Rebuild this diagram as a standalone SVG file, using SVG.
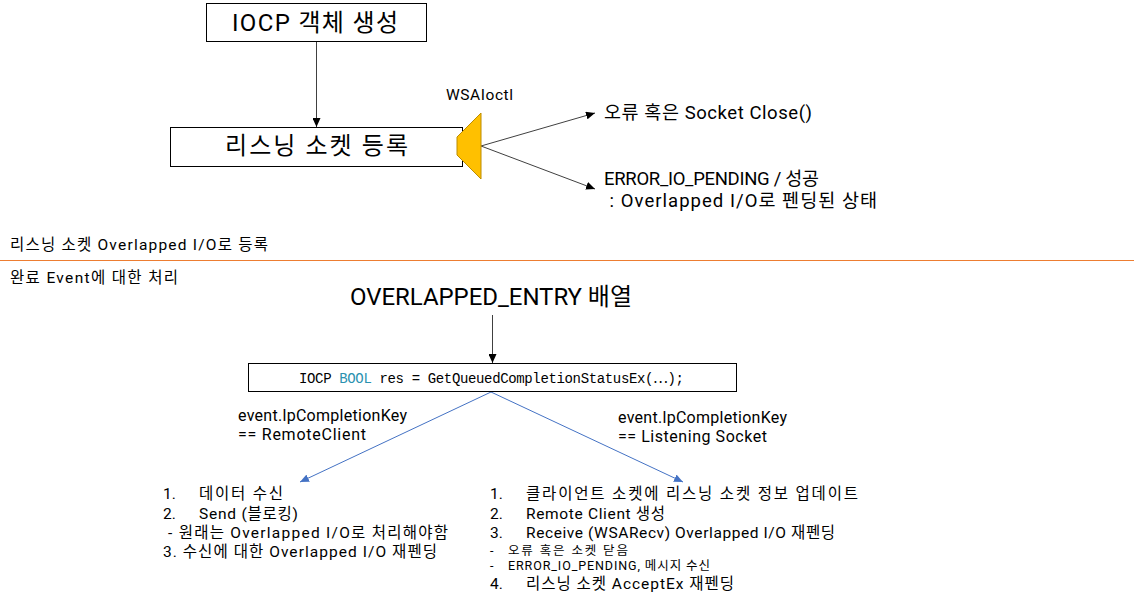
<svg xmlns="http://www.w3.org/2000/svg" width="1134" height="603" viewBox="0 0 1134 603">
<style>
text{font-family:Roboto,"Noto Sans CJK KR",sans-serif;fill:#000;white-space:pre}
.box{fill:#fff;stroke:#000;stroke-width:1}
.t15{font-size:15.500px}.t16{font-size:16px}.t18{font-size:18.500px}.t24{font-size:24px}
.t12{font-size:12.500px}
.mono{font-family:"Liberation Mono","Noto Sans CJK KR",monospace;font-size:14px}
.dark{stroke:#404040;stroke-width:1;fill:none}
.blue{stroke:#4472C4;stroke-width:1;fill:none}
</style>
<defs>
<marker id="ah" markerUnits="userSpaceOnUse" markerWidth="9" markerHeight="8" refX="9" refY="4" orient="auto"><path d="M0 0L9 4L0 8Z" fill="#000"/></marker>
<marker id="ab" markerUnits="userSpaceOnUse" markerWidth="9" markerHeight="8" refX="9" refY="4" orient="auto"><path d="M0 0L9 4L0 8Z" fill="#4472C4"/></marker>
</defs>
<g id="connectors">
<path class="dark" d="M316.500 41V127" marker-end="url(#ah)"/>
<path class="dark" d="M481 146L595 113" marker-end="url(#ah)"/>
<path class="dark" d="M481 146L595 189" marker-end="url(#ah)"/>
<path class="dark" d="M492.500 315V363" marker-end="url(#ah)"/>
<path class="blue" d="M491 392L300 482" marker-end="url(#ab)"/>
<path class="blue" d="M491 392L683 482" marker-end="url(#ab)"/>
</g>
<g id="node-iocp"><rect class="box" x="206.500" y="3.500" width="220" height="38"/><text class="t24" x="232" y="31" textLength="166">IOCP 객체 생성</text></g>
<g id="node-listen"><rect class="box" x="170.500" y="127.500" width="292" height="39"/><text class="t24" x="225" y="154" textLength="183">리스닝 소켓 등록</text></g>
<g id="node-horn"><path d="M457 137L481 113V179L457 155Z" fill="#FFC000" stroke="#BC8C00" stroke-width="1"/><text font-size="15.500" x="446" y="100" textLength="67">WSAIoctl</text></g>
<g id="node-result1"><text class="t18" x="604" y="119" textLength="208">오류 혹은 Socket Close()</text></g>
<g id="node-result2"><text class="t18" x="604" y="185" textLength="215">ERROR_IO_PENDING / 성공</text><text class="t18" x="604" y="207" textLength="273"> : Overlapped I/O로 펜딩된 상태</text></g>
<g id="section-labels">
<text class="t15" x="10" y="250" textLength="258">리스닝 소켓 Overlapped I/O로 등록</text>
<path d="M0 260.500H1134" stroke="#ED7D31" stroke-width="1" fill="none"/>
<text class="t15" x="10" y="283" textLength="168">완료 Event에 대한 처리</text>
</g>
<g id="node-entry"><text font-size="24" x="350" y="305" textLength="282">OVERLAPPED_ENTRY 배열</text></g>
<g id="node-iocp-call"><rect class="box" x="248.500" y="363.500" width="488" height="28"/><text class="mono" x="299" y="383" textLength="385">IOCP <tspan fill="#2B91AF">BOOL</tspan> res = GetQueuedCompletionStatusEx(⋯);</text></g>
<g id="label-left"><text class="t16" x="238" y="421" textLength="169">event.lpCompletionKey</text><text class="t16" x="238" y="440" textLength="128">== RemoteClient</text></g>
<g id="label-right"><text class="t16" x="618" y="423" textLength="169">event.lpCompletionKey</text><text class="t16" x="618" y="442" textLength="149">== Listening Socket</text></g>
<g id="list-left">
<text class="t15" x="163" y="499">1.</text><text class="t15" x="199" y="499" textLength="84">데이터 수신</text>
<text class="t15" x="163" y="519">2.</text><text class="t15" x="199" y="519" textLength="99">Send (블로킹)</text>
<text class="t15" x="168" y="538" textLength="280">- 원래는 Overlapped I/O로 처리해야함</text>
<text class="t15" x="163" y="557" textLength="274">3. 수신에 대한 Overlapped I/O 재펜딩</text>
</g>
<g id="list-right">
<text class="t15" x="490" y="499">1.</text><text class="t15" x="526" y="499" textLength="332">클라이언트 소켓에 리스닝 소켓 정보 업데이트</text>
<text class="t15" x="490" y="519">2.</text><text class="t15" x="526" y="519" textLength="139">Remote Client 생성</text>
<text class="t15" x="490" y="538">3.</text><text class="t15" x="526" y="538" textLength="309">Receive (WSARecv) Overlapped I/O 재펜딩</text>
<text class="t12" x="490" y="555">-</text><text class="t12" x="508" y="555" textLength="120">오류 혹은 소켓 닫음</text>
<text class="t12" x="490" y="570">-</text><text class="t12" x="508" y="570" textLength="202">ERROR_IO_PENDING, 메시지 수신</text>
<text class="t15" x="490" y="589">4.</text><text class="t15" x="526" y="589" textLength="208">리스닝 소켓 AcceptEx 재펜딩</text>
</g>
</svg>
